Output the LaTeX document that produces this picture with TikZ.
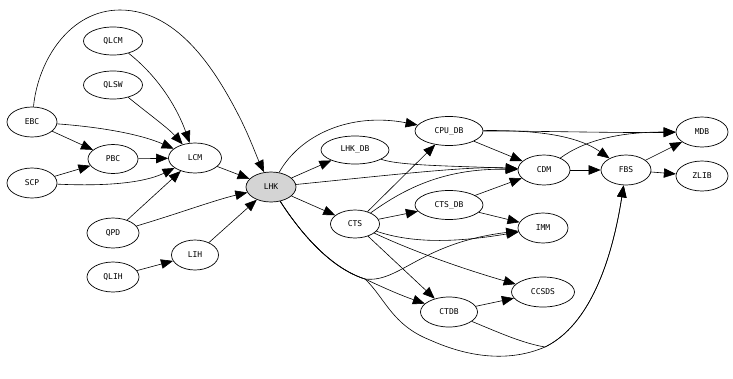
\documentclass[tikz,border=0pt]{standalone}
\usepackage{fontspec}
\newfontfamily\gvfont{DejaVu Sans Mono}
\usetikzlibrary{shapes.geometric,arrows.meta}
\tikzset{
  gv/.style={ellipse,draw,line width=0.7pt,inner sep=0pt,minimum height=30pt,
    font=\gvfont\fontsize{8}{9}\selectfont},
  edge/.style={line width=0.6pt,-{Triangle[length=12pt,width=9.5pt]}},
  plain/.style={line width=0.6pt}
}
\begin{document}
\begin{tikzpicture}[x=1pt,y=-1pt]
\useasboundingbox (0,0) rectangle (733,378);
% nodes
\node[gv,minimum width=59pt,minimum height=28pt] (QLCM) at (113,41) {QLCM};
\node[gv,minimum width=59pt,minimum height=28pt] (QLSW) at (113,85) {QLSW};
\node[gv,minimum width=50pt] (EBC) at (32,122) {EBC};
\node[gv,minimum width=50pt] (SCP) at (32,183) {SCP};
\node[gv,minimum width=50pt,minimum height=29pt] (PBC) at (113,159) {PBC};
\node[gv,minimum width=53pt] (LCM) at (195,158) {LCM};
\node[gv,minimum width=52pt] (QPD) at (113,233) {QPD};
\node[gv,minimum width=52pt] (QLIH) at (113,277) {QLIH};
\node[gv,minimum width=47pt] (LIH) at (195,255) {LIH};
\node[gv,minimum width=50pt,fill=black!17] (LHK) at (271,187) {LHK};
\node[gv,minimum width=68pt,minimum height=28pt] (LHKDB) at (355,150) {LHK\_DB};
\node[gv,minimum width=68pt,minimum height=29pt] (CPUDB) at (449,131) {CPU\_DB};
\node[gv,minimum width=49pt,minimum height=28pt] (CTS) at (355,224) {CTS};
\node[gv,minimum width=68pt,minimum height=29pt] (CTSDB) at (449,205) {CTS\_DB};
\node[gv,minimum width=52pt] (CDM) at (544,170) {CDM};
\node[gv,minimum width=50pt] (IMM) at (543,228) {IMM};
\node[gv,minimum width=63pt] (CCSDS) at (543,292) {CCSDS};
\node[gv,minimum width=57pt] (CTDB) at (449,312) {CTDB};
\node[gv,minimum width=50pt] (FBS) at (626,170) {FBS};
\node[gv,minimum width=52pt] (MDB) at (702,132) {MDB};
\node[gv,minimum width=52pt] (ZLIB) at (702,176) {ZLIB};
% left part
\draw[edge] (EBC) .. controls (38,60) and (70,10) .. (120,10)
  .. controls (180,10) and (218,75) .. (240,118)
  .. controls (250,138) and (256,155) .. (LHK);
\draw[edge] (EBC) .. controls (100,127) and (140,134) .. (LCM);
\draw[edge] (EBC) -- (PBC);
\draw[edge] (SCP) -- (PBC);
\draw[edge] (SCP) .. controls (120,187) and (150,180) .. (LCM);
\draw[edge] (PBC) -- (LCM);
\draw[edge] (QLCM) .. controls (160,78) and (178,110) .. (LCM);
\draw[edge] (QLSW) .. controls (150,115) and (168,128) .. (LCM);
\draw[edge] (QPD) -- (LCM);
\draw[edge] (QPD) .. controls (180,213) and (215,200) .. (LHK);
\draw[edge] (QLIH) -- (LIH);
\draw[edge] (LIH) -- (LHK);
\draw[edge] (LCM) -- (LHK);
% middle
\draw[edge] (LHK) -- (LHKDB);
\draw[edge] (LHK) .. controls (300,135) and (350,112) .. (CPUDB);
\draw[edge] (LHK) .. controls (400,174) and (470,166) .. (CDM);
\draw[edge] (LHKDB) .. controls (400,166) and (460,166) .. (CDM);
\draw[edge] (CTS) .. controls (400,192) and (440,168) .. (CDM);
\draw[edge] (LHK) -- (CTS);
\draw[edge] (CTS) -- (CPUDB);
\draw[edge] (CTS) -- (CTSDB);
\draw[edge] (CTS) .. controls (420,246) and (470,240) .. (IMM);
\draw[edge] (CTS) .. controls (410,250) and (460,268) .. (CCSDS);
\draw[edge] (CTS) -- (CTDB);
\draw[edge] (LHK) .. controls (300,232) and (330,268) .. (365,279)
  .. controls (400,283) and (420,243) .. (IMM);
\draw[edge] (LHK) .. controls (300,232) and (330,268) .. (365,279)
  .. controls (382,287) and (400,295) .. (CTDB);
\draw[edge] (LHK) .. controls (300,232) and (330,268) .. (365,279)
  .. controls (385,298) and (392,325) .. (430,340)
  .. controls (470,358) and (510,362) .. (545,347)
  .. controls (590,325) and (612,260) .. (FBS);
\draw[edge] (CTDB) .. controls (500,333) and (522,343) .. (545,347)
  .. controls (590,325) and (612,260) .. (FBS);
% right part
\draw[edge] (CTDB) -- (CCSDS);
\draw[edge] (CTSDB) -- (CDM);
\draw[edge] (CTSDB) -- (IMM);
\draw[edge] (CPUDB) -- (CDM);
\draw[edge] (CPUDB) .. controls (530,130) and (575,134) .. (FBS);
\draw[edge] (CPUDB) .. controls (540,131) and (620,133) .. (MDB);
\draw[edge] (CDM) .. controls (585,140) and (620,132) .. (MDB);
\draw[edge] (CDM) -- (FBS);
\draw[edge] (FBS) -- (MDB);
\draw[edge] (FBS) -- (ZLIB);
\end{tikzpicture}
\end{document}
